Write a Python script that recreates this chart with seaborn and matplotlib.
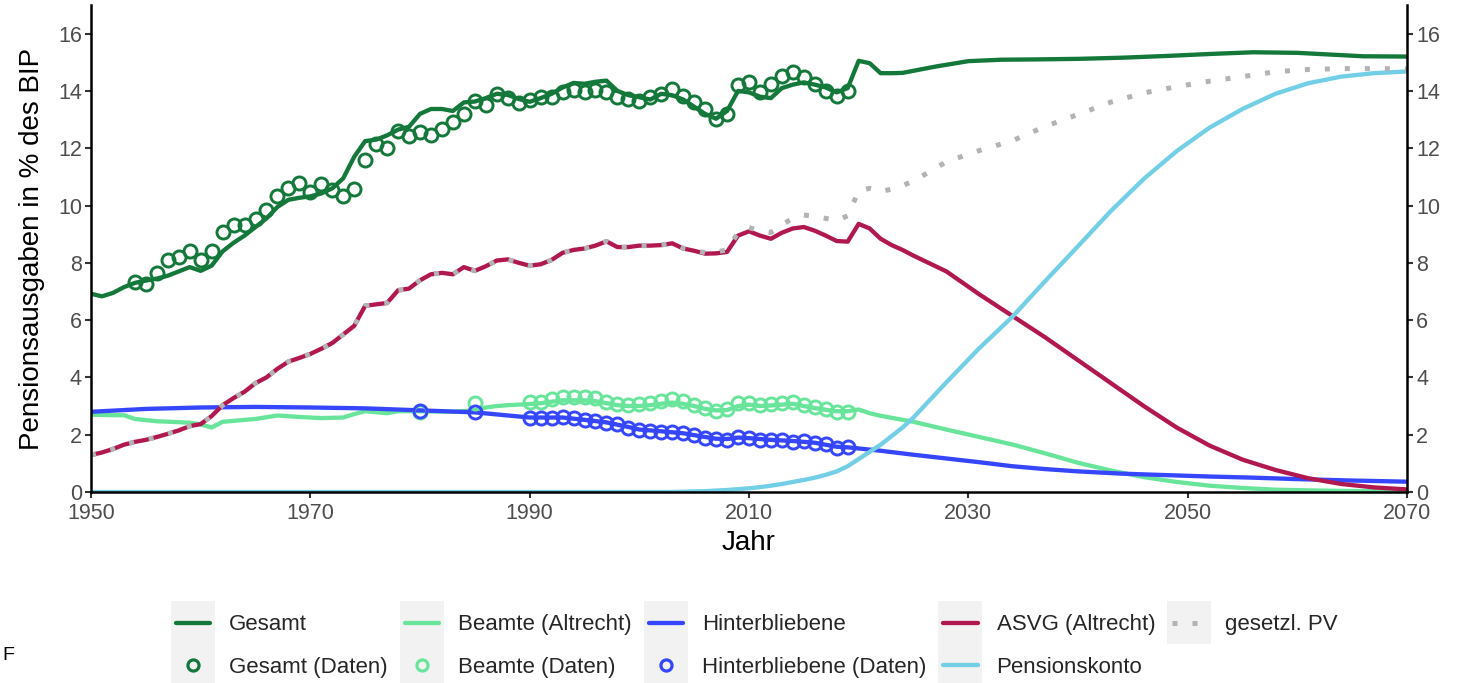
import numpy as np
import matplotlib
matplotlib.use("Agg")
import matplotlib.pyplot as plt
from matplotlib.lines import Line2D
from matplotlib.patches import Rectangle
from matplotlib.transforms import IdentityTransform
import seaborn as sns

# ---------------- data ----------------
# Gesamt (model line)
gesamt_years = list(range(1950, 2025)) + [2027, 2030, 2033, 2036, 2040, 2044, 2048,
                                          2052, 2056, 2060, 2063, 2066, 2070]
gesamt_vals = [6.92, 6.83, 6.95, 7.15, 7.3, 7.38, 7.45, 7.55, 7.7, 7.85,
               7.72, 7.9, 8.4, 8.7, 8.95, 9.25, 9.55, 9.95, 10.2, 10.27,
               10.32, 10.42, 10.6, 10.95, 11.7, 12.25, 12.3, 12.45, 12.65, 12.75,
               13.2, 13.37, 13.37, 13.3, 13.6, 13.63, 13.75, 13.9, 13.86, 13.72,
               13.62, 13.75, 13.9, 14.12, 14.28, 14.25, 14.32, 14.36, 14.0, 13.85,
               13.78, 13.7, 13.9, 13.85, 13.7, 13.45, 13.2, 13.03, 13.3, 14.0,
               13.95, 13.8, 13.75, 14.1, 14.22, 14.3, 14.22, 14.12, 13.95, 14.1,
               15.05, 14.97, 14.62, 14.62, 14.63,
               14.85, 15.04, 15.09, 15.1, 15.12, 15.16, 15.22,
               15.29, 15.35, 15.33, 15.27, 15.21, 15.2]

# Gesamt (Daten)
gesamt_data_years = list(range(1954, 2020))
gesamt_data_vals = [7.33, 7.25, 7.65, 8.11, 8.2, 8.43,
                    8.09, 8.41, 9.07, 9.31, 9.31, 9.54, 9.86, 10.35, 10.62, 10.78,
                    10.47, 10.76, 10.53, 10.32, 10.59, 11.6, 12.15, 12.0, 12.6, 12.44,
                    12.56, 12.45, 12.68, 12.9, 13.2, 13.66, 13.5, 13.9, 13.75, 13.58,
                    13.7, 13.8, 13.8, 13.97, 14.05, 13.95, 14.05, 13.95, 13.78, 13.72,
                    13.66, 13.78, 13.9, 14.07, 13.84, 13.6, 13.37, 13.02, 13.2, 14.19,
                    14.3, 13.95, 14.25, 14.53, 14.65, 14.48, 14.25, 14.01, 13.84, 14.01]

# ASVG (Altrecht) and Pensionskonto share one year grid
pv_years = list(range(1950, 2026)) + list(range(2028, 2071, 3))
asvg_vals = [1.29, 1.38, 1.5, 1.65, 1.75, 1.82, 1.92, 2.03, 2.15, 2.3,
             2.37, 2.65, 3.03, 3.28, 3.5, 3.8, 4.0, 4.3, 4.55, 4.68,
             4.82, 5.0, 5.2, 5.5, 5.8, 6.5, 6.55, 6.6, 7.04, 7.1,
             7.39, 7.6, 7.65, 7.6, 7.85, 7.72, 7.88, 8.08, 8.12, 8.0,
             7.9, 7.95, 8.1, 8.35, 8.45, 8.5, 8.6, 8.75, 8.55, 8.55,
             8.6, 8.6, 8.62, 8.68, 8.5, 8.42, 8.32, 8.33, 8.38, 8.95,
             9.1, 8.95, 8.84, 9.05, 9.2, 9.25, 9.12, 8.95, 8.76, 8.74,
             9.36, 9.2, 8.84, 8.62, 8.45, 8.25,
             7.7, 6.9, 6.15, 5.4, 4.6, 3.8, 3.0, 2.25, 1.62, 1.13, 0.77, 0.48, 0.28, 0.16, 0.09]
pk_vals = [0.0] * 54 + [0.01, 0.02, 0.03, 0.05, 0.07, 0.1,
                        0.13, 0.17, 0.22, 0.28, 0.35, 0.42, 0.5, 0.6, 0.72, 0.9,
                        1.15, 1.4, 1.65, 1.95, 2.25, 2.6,
                        3.83, 5.02, 6.11, 7.36, 8.58, 9.81, 10.93, 11.9, 12.72,
                        13.37, 13.9, 14.27, 14.5, 14.62, 14.68]
# gesetzl. PV = ASVG (Altrecht) + Pensionskonto
gpv_vals = list(np.array(asvg_vals) + np.array(pk_vals))

# Beamte (Altrecht)
beamte_years = ([1950, 1952, 1953, 1954, 1956, 1959, 1960, 1961, 1962, 1965, 1967, 1969,
                 1971, 1973, 1974, 1975, 1977, 1978, 1980, 1983, 1985, 1986, 1987, 1988, 1989]
                + list(range(1990, 2023))
                + [2025, 2028, 2031, 2034, 2037, 2040, 2043, 2046, 2049, 2052, 2055, 2058,
                   2062, 2066, 2070])
beamte_vals = ([2.7, 2.68, 2.68, 2.55, 2.47, 2.42, 2.36, 2.25, 2.45, 2.55, 2.67, 2.62,
                2.58, 2.6, 2.72, 2.82, 2.75, 2.82, 2.82, 2.8, 2.85, 2.95, 3.0, 3.03, 3.05]
               + [3.07, 3.1, 3.15, 3.2, 3.2, 3.2, 3.17, 3.1, 3.03, 3.0,
                  3.0, 3.03, 3.08, 3.12, 3.08, 3.0, 2.9, 2.85, 2.86, 3.0,
                  3.05, 3.0, 3.02, 3.05, 3.08, 3.0, 2.93, 2.87, 2.82, 2.82,
                  2.88, 2.75, 2.66]
               + [2.45, 2.18, 1.92, 1.66, 1.35, 1.02, 0.75, 0.52, 0.35, 0.22, 0.14, 0.08,
                  0.05, 0.03, 0.02])

# Beamte (Daten)
daten_years = [1980, 1985] + list(range(1990, 2020))
beamte_data_vals = [2.8, 3.09,
                    3.15, 3.15, 3.23, 3.32, 3.3, 3.3, 3.27, 3.15, 3.07, 3.03,
                    3.07, 3.1, 3.18, 3.23, 3.17, 3.03, 2.92, 2.84, 2.88, 3.09,
                    3.1, 3.03, 3.07, 3.1, 3.15, 3.03, 2.95, 2.88, 2.8, 2.8]

# Hinterbliebene
hinter_years = [1950, 1955, 1960, 1965, 1970, 1975, 1980, 1985,
                1990, 1993, 1995, 1997, 1999,
                2000, 2002, 2004, 2006, 2007, 2008, 2009,
                2010, 2012, 2014, 2016, 2018, 2019,
                2022, 2025, 2028, 2031, 2034, 2037, 2040,
                2044, 2048, 2052, 2056, 2060, 2065, 2070]
hinter_vals = [2.8, 2.9, 2.95, 2.97, 2.95, 2.92, 2.85, 2.78,
               2.6, 2.6, 2.52, 2.43, 2.27,
               2.18, 2.12, 2.05, 1.92, 1.86, 1.85, 1.9,
               1.88, 1.82, 1.78, 1.72, 1.58, 1.56,
               1.44, 1.3, 1.17, 1.04, 0.9, 0.8, 0.72,
               0.64, 0.59, 0.54, 0.5, 0.45, 0.4, 0.36]

# Hinterbliebene (Daten)
hinter_data_vals = [2.83, 2.78,
                    2.57, 2.57, 2.57, 2.63, 2.57, 2.51, 2.49, 2.42, 2.36, 2.25,
                    2.16, 2.13, 2.1, 2.1, 2.05, 1.99, 1.89, 1.84, 1.83, 1.93,
                    1.89, 1.83, 1.81, 1.81, 1.76, 1.79, 1.7, 1.66, 1.52, 1.56]

x_ticks = [1950, 1970, 1990, 2010, 2030, 2050, 2070]
y_ticks = [0, 2, 4, 6, 8, 10, 12, 14, 16]

legend_labels = ["Gesamt", "Gesamt (Daten)", "Beamte (Altrecht)", "Beamte (Daten)",
                 "Hinterbliebene", "Hinterbliebene (Daten)", "ASVG (Altrecht)",
                 "Pensionskonto", "gesetzl. PV"]

# ---------------- style ----------------
C_GES = "#13783A"
C_BEA = "#69E59B"
C_HIN = "#3546FC"
C_ASVG = "#B0184F"
C_PK = "#72CFE6"
C_GPV = "#B3B3B3"

sns.set_theme(style="white")
plt.rcParams["font.family"] = ["Liberation Sans", "DejaVu Sans"]

W, H = 1463, 683
fig = plt.figure(figsize=(W / 100, H / 100), dpi=100)
ax = fig.add_axes([91 / W, 1 - 492 / H, (1407 - 91) / W, (492 - 5) / H])

LW = 3.1
DOT = (0, (1, 3))

sns.lineplot(x=beamte_years, y=beamte_vals, ax=ax, color=C_BEA, linewidth=LW, zorder=2)
sns.lineplot(x=hinter_years, y=hinter_vals, ax=ax, color=C_HIN, linewidth=LW, zorder=2.1)
sns.lineplot(x=pv_years, y=asvg_vals, ax=ax, color=C_ASVG, linewidth=LW, zorder=2.2)
sns.lineplot(x=pv_years, y=pk_vals, ax=ax, color=C_PK, linewidth=LW, zorder=2.3)
sns.lineplot(x=pv_years, y=gpv_vals, ax=ax, color=C_GPV, linewidth=3.6,
             linestyle=DOT, dash_capstyle="butt", zorder=2.4)
sns.lineplot(x=gesamt_years, y=gesamt_vals, ax=ax, color=C_GES, linewidth=LW, zorder=2.5)

MS, MEW = 9.4, 2.1
sns.lineplot(x=gesamt_data_years, y=gesamt_data_vals, ax=ax, linestyle="", marker="o",
             markersize=MS, markerfacecolor="none", markeredgecolor=C_GES,
             markeredgewidth=MEW, color=C_GES, zorder=3)
sns.lineplot(x=daten_years, y=beamte_data_vals, ax=ax, linestyle="", marker="o",
             markersize=MS, markerfacecolor="none", markeredgecolor=C_BEA,
             markeredgewidth=MEW, color=C_BEA, zorder=3.1)
sns.lineplot(x=daten_years, y=hinter_data_vals, ax=ax, linestyle="", marker="o",
             markersize=MS, markerfacecolor="none", markeredgecolor=C_HIN,
             markeredgewidth=MEW, color=C_HIN, zorder=3.2)

ax.set_xlim(1950, 2070)
ax.set_ylim(0, 17)
ax.set_xticks(x_ticks)
ax.set_xticklabels([str(v) for v in x_ticks])
ax.set_yticks(y_ticks)
ax.set_yticklabels([str(v) for v in y_ticks])

for side in ["left", "right", "bottom"]:
    ax.spines[side].set_visible(True)
    ax.spines[side].set_color("black")
    ax.spines[side].set_linewidth(1.8)
    ax.spines[side].set_zorder(4)
ax.spines["top"].set_visible(False)

ax.tick_params(axis="both", which="major", direction="out", length=4, width=1.5,
               color="#333333", labelsize=15.5, labelcolor="#4D4D4D")
ax.tick_params(axis="y", left=True, right=True, labelleft=True, labelright=True, pad=2.5)
ax.tick_params(axis="x", bottom=True, pad=4)
ax.grid(False)

ax.set_xlabel("Jahr", fontsize=20, color="black", labelpad=4)
ax.set_ylabel("Pensionsausgaben in % des BIP", fontsize=20, color="black", labelpad=9)

# ---------------- legend ----------------
handles = [
    Line2D([], [], color=C_GES, lw=LW),
    Line2D([], [], ls="", marker="o", ms=8, mfc="none", mec=C_GES, mew=2.3),
    Line2D([], [], color=C_BEA, lw=LW),
    Line2D([], [], ls="", marker="o", ms=8, mfc="none", mec=C_BEA, mew=2.3),
    Line2D([], [], color=C_HIN, lw=LW),
    Line2D([], [], ls="", marker="o", ms=8, mfc="none", mec=C_HIN, mew=2.3),
    Line2D([], [], color=C_ASVG, lw=LW),
    Line2D([], [], color=C_PK, lw=LW),
    Line2D([], [], color=C_GPV, lw=3.6, ls=DOT, dash_capstyle="butt"),
]
leg = fig.legend(handles, legend_labels, ncol=5, loc="center",
                 bbox_to_anchor=(757 / W, 1 - 646 / H), frameon=False,
                 fontsize=16, handlelength=1.55, handletextpad=0.85,
                 columnspacing=0.76, labelspacing=0.95, numpoints=1,
                 borderpad=0.0)

fig.canvas.draw()
renderer = fig.canvas.get_renderer()
for h in leg.legend_handles:
    bb = h.get_window_extent(renderer)
    cx, cy = (bb.x0 + bb.x1) / 2, (bb.y0 + bb.y1) / 2
    fig.add_artist(Rectangle((cx - 22, cy - 21.5), 44, 43, transform=IdentityTransform(),
                             facecolor="#F2F2F2", edgecolor="none", zorder=1))

# caption glyph visible at the bottom-left edge of the reference
fig.text(2 / W, 1 - 655 / H, "F", fontsize=14, color="black", ha="left", va="center")

fig.savefig("out.png", dpi=100)
